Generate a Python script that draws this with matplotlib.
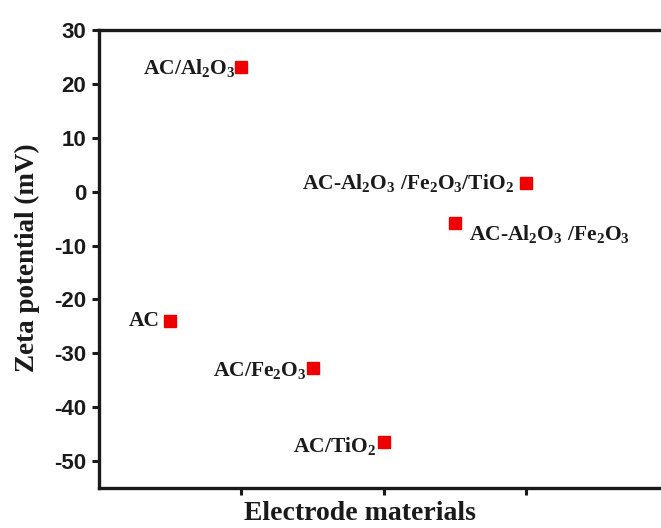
import matplotlib
matplotlib.use("Agg")
import matplotlib.pyplot as plt

plt.rcParams["mathtext.fontset"] = "custom"
plt.rcParams["mathtext.rm"] = "Liberation Serif:bold"
plt.rcParams["mathtext.it"] = "Liberation Serif:italic:bold"
plt.rcParams["mathtext.bf"] = "Liberation Serif:bold"
plt.rcParams["mathtext.default"] = "rm"
plt.rcParams["axes.unicode_minus"] = False

# Zeta potential of each electrode material
materials = ["AC", "AC/Al$_2$O$_3$", "AC/Fe$_2$O$_3$", "AC/TiO$_2$",
             "AC-Al$_2$O$_3$ /Fe$_2$O$_3$", "AC-Al$_2$O$_3$ /Fe$_2$O$_3$/TiO$_2$"]
positions = [1, 2, 3, 4, 5, 6]
zeta_mv = [-24.0, 23.2, -32.8, -46.5, -5.9, 1.6]

# label placement (pixel offsets from marker, alignment)
label_offsets = [(-10, 0, "right"), (-6, -1, "right"), (-6, -2, "right"),
                 (-8, -4, "right"), (14, -11, "left"), (-12, 0, "right")]

fig = plt.figure(figsize=(6.61, 5.28), dpi=100)
ax = fig.add_axes([99 / 661, 1 - 488 / 528, 570 / 661, 458 / 528])

ax.plot(positions, zeta_mv, linestyle="none", marker="s", markersize=8,
        color="#ee0000", markeredgecolor="#ee0000")

for x, y, name, (dx, dy, ha) in zip(positions, zeta_mv, materials, label_offsets):
    ax.annotate(name, (x, y), xytext=(dx, dy), textcoords="offset pixels",
                ha=ha, va="center", fontsize=15.5, fontweight="bold",
                family="Liberation Serif", color="#1a1a1a")

ax.set_xlim(0, 8)
ax.set_ylim(-55, 30)
ax.set_xticks([2, 4, 6])
ax.set_xticklabels([])
ax.set_yticks([-50, -40, -30, -20, -10, 0, 10, 20, 30])

ax.tick_params(axis="both", direction="out", length=5, width=2.2, color="#1a1a1a")
ax.tick_params(axis="y", labelsize=16, pad=4)
for lbl in ax.get_yticklabels():
    lbl.set_family("Liberation Sans")
    lbl.set_fontweight("bold")
    lbl.set_color("#1a1a1a")

for side in ["left", "bottom", "top", "right"]:
    ax.spines[side].set_linewidth(2.4)
    ax.spines[side].set_color("#1a1a1a")

ax.set_ylabel("Zeta potential (mV)", fontsize=19.5, fontweight="bold",
              family="Liberation Serif", color="#1a1a1a")
ax.yaxis.set_label_coords((27 - 99) / 570, (488 - 258) / 458)
ax.yaxis.label.set_va("center")

ax.set_xlabel("Electrode materials", fontsize=20, fontweight="bold",
              family="Liberation Serif", color="#1a1a1a")
ax.xaxis.set_label_coords((360 - 99) / 570, (488 - 514) / 458)
ax.xaxis.label.set_va("center")

fig.savefig("out.png", dpi=100, facecolor="white")
